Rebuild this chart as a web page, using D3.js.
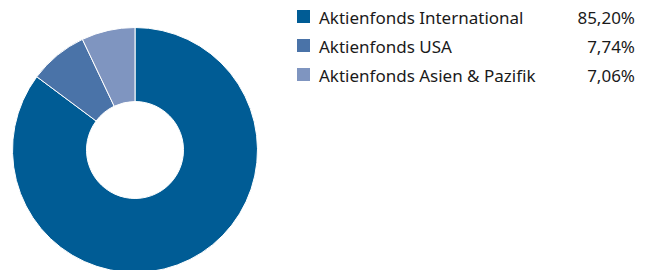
<!DOCTYPE html>
<html>
<head>
<meta charset="utf-8">
<script src="https://cdn.jsdelivr.net/npm/d3@7"></script>
<style>
	body { margin: 0; background: #fff; }
	text { font-family: "Noto Sans", sans-serif; }
</style>
</head>
<body>
<div id="chart"></div>
<script>
var categories = ["Aktienfonds International", "Aktienfonds USA", "Aktienfonds Asien & Pazifik"];
var values = [85.20, 7.74, 7.06];
var labels = ["85,20%", "7,74%", "7,06%"];
var colors = ["#005c95", "#4a73a8", "#7f95c0"];

const width = 654;
const height = 270;

const svg = d3.select("#chart").append("svg")
	.attr("width", width)
	.attr("height", height);

const pie = d3.pie()
	.sort(null)
	.value(d => d);

const arc = d3.arc()
	.innerRadius(48.5)
	.outerRadius(122.5);

const donut = svg.append("g")
	.attr("transform", "translate(135,150)");

donut.selectAll("path")
	.data(pie(values))
	.enter()
	.append("path")
	.attr("d", arc)
	.attr("fill", (d, i) => colors[i])
	.attr("stroke", "#fff")
	.attr("stroke-width", 1);

const legend = svg.append("g")
	.attr("transform", "translate(297,10)");

const rowH = 29;

const rows = legend.selectAll(".row")
	.data(categories)
	.enter()
	.append("g")
	.attr("class", "row")
	.attr("transform", (d, i) => "translate(0," + (i * rowH) + ")");

rows.append("rect")
	.attr("width", 13)
	.attr("height", 13)
	.attr("fill", (d, i) => colors[i]);

rows.append("text")
	.attr("x", 22)
	.attr("y", 13.5)
	.attr("font-size", 17)
	.attr("fill", "#1a1a1a")
	.text(d => d);

rows.append("text")
	.attr("x", 338)
	.attr("y", 13.5)
	.attr("text-anchor", "end")
	.attr("font-size", 17)
	.attr("fill", "#1a1a1a")
	.text((d, i) => labels[i]);
</script>
</body>
</html>
